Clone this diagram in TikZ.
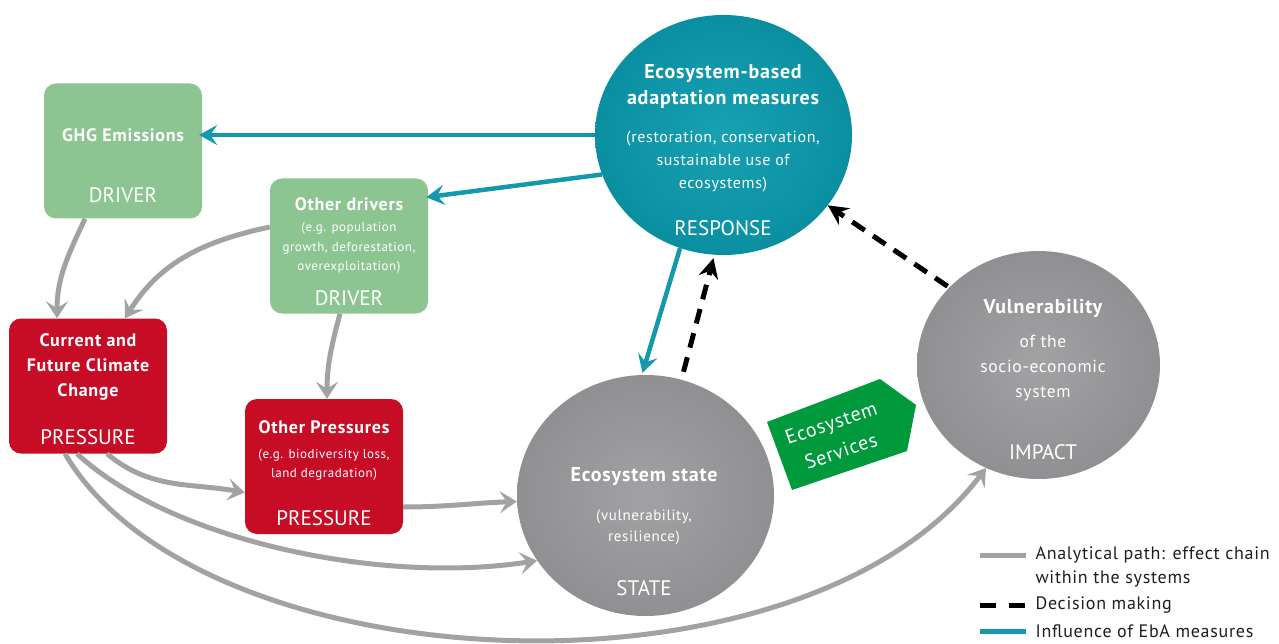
\documentclass[tikz,border=0pt]{standalone}
\usepackage{fontspec}
\setmainfont{PT Sans}[LetterSpace=4]
\newfontfamily\tagfam{PT Sans}
\usetikzlibrary{arrows.meta,shapes.geometric,calc}

\definecolor{drvgreen}{HTML}{8CC592}
\definecolor{prsred}{HTML}{C70C25}
\definecolor{ebateal}{HTML}{1399AB}
\definecolor{tealin}{HTML}{17A1B3}
\definecolor{tealout}{HTML}{0A8FA1}
\definecolor{grayin}{HTML}{A2A2A4}
\definecolor{grayout}{HTML}{909092}
\definecolor{pathgray}{HTML}{A2A2A2}
\definecolor{esgreen}{HTML}{009A3D}
\definecolor{legtext}{HTML}{1E1E1E}

\begin{document}
\begin{tikzpicture}[x=1pt,y=-1pt,
  box/.style={rectangle, rounded corners=12pt, minimum width=158pt, minimum height=135pt, inner sep=0pt},
  driverbox/.style={box, fill=drvgreen},
  pressbox/.style={box, fill=prsred},
  blob/.style={ellipse, inner sep=0pt},
  respblob/.style={blob, inner color=tealin, outer color=tealout},
  grayblob/.style={blob, inner color=grayin, outer color=grayout},
  ttl/.style={text=white, font=\bfseries\fontsize{18}{25}\selectfont, align=center},
  bigttl/.style={text=white, font=\bfseries\fontsize{20}{26}\selectfont, align=center},
  sub/.style={text=white, font=\fontsize{13}{19.5}\selectfont, align=center},
  bigsub/.style={text=white, font=\fontsize{16}{23}\selectfont, align=center},
  tag/.style={text=white, font=\tagfam\fontsize{21}{22}\selectfont},
  legend/.style={text=legtext, font=\fontsize{18}{24}\selectfont, anchor=west, align=left},
  analytic/.style={draw=pathgray, line width=5pt, -{Stealth[length=17pt,width=22pt,inset=7pt]}},
  eba/.style={draw=ebateal, line width=4.5pt, -{Stealth[length=18pt,width=20pt,inset=7pt]}},
  decision/.style={draw=black, line width=5pt, dash pattern=on 15pt off 10pt, -{Stealth[length=20pt,width=20pt,inset=7pt]}}
]
\useasboundingbox (0,0) rectangle (1279,644);

% ---------- DRIVER boxes ----------
\node[driverbox] (ghg) at (123,151) {};
\node[ttl] (ghgT) at (123,135) {GHG Emissions};
\node[tag] (ghgL) at (123,195) {DRIVER};

\node[driverbox] (odr) at (349,246) {};
\node[ttl] (odrT) at (349,204) {Other drivers};
\node[sub] (odrS) at (349,248) {(e.g. population\\growth, deforestation,\\overexploitation)};
\node[tag] (odrL) at (349,298) {DRIVER};

% ---------- PRESSURE boxes ----------
\node[pressbox] (cur) at (88,386) {};
\node[ttl] (curT) at (88,367) {Current and\\Future Climate\\Change};
\node[tag] (curL) at (88,437) {PRESSURE};

\node[pressbox] (opr) at (324,466.5) {};
\node[ttl] (oprT) at (324,427) {Other Pressures};
\node[sub] (oprS) at (324,465) {(e.g. biodiversity loss,\\land degradation)};
\node[tag] (oprL) at (324,518) {PRESSURE};

% ---------- RESPONSE, STATE, IMPACT ----------
\node[respblob, minimum width=257pt, minimum height=240pt] (resp) at (723.5,135) {};
\node[bigttl] (respT) at (723,87) {Ecosystem-based\\adaptation measures};
\node[bigsub] (respS) at (723,162) {(restoration, conservation,\\sustainable use of\\ecosystems)};
\node[tag] (respL) at (723,228) {RESPONSE};

\node[grayblob, minimum width=257pt, minimum height=241pt] (state) at (645.5,495.5) {};
\node[bigttl] (stateT) at (644,477) {Ecosystem state};
\node[sub, font=\fontsize{15}{21}\selectfont] (stateS) at (644,527.5) {(vulnerability,\\resilience)};
\node[tag] (stateL) at (644,588) {STATE};

\node[grayblob, minimum width=243pt, minimum height=228pt] (imp) at (1038.5,365) {};
\node[bigttl] (impT) at (1043,308) {Vulnerability};
\node[bigsub, font=\fontsize{17.5}{25}\selectfont] (impS) at (1043,368) {of the\\socio-economic\\system};
\node[tag] (impL) at (1043,452) {IMPACT};

% ---------- Ecosystem Services tag ----------
\fill[esgreen] (767,422) -- (880,379) -- (916,405) -- (907,451) -- (792,490) -- cycle;
\node[text=white, font=\fontsize{20}{30}\selectfont, align=center, rotate=19] (esT) at (836,437) {Ecosystem\\Services};

% ---------- Influence of EbA measures ----------
\draw[eba, shorten >=-3pt] (resp.west) -- (resp.west -| ghg.east);
\draw[eba, shorten >=-2pt] (resp.198) -- ([yshift=49pt]odr.east);
\draw[eba] (resp.-111) -- ([xshift=-3pt,yshift=2pt]state.north);

% ---------- Decision making ----------
\draw[decision] ([xshift=38pt,yshift=3pt]state.north) -- ([xshift=-10pt,yshift=-3pt]resp.south);
\draw[decision, shorten <=2pt] (imp.139.5) -- (resp.-34);

% ---------- Analytical path ----------
\draw[analytic] ([xshift=-38pt]ghg.south) to[out=-115,in=90] ([xshift=-31pt]cur.north);
\draw[analytic] ([yshift=19pt]odr.west) to[out=192,in=58] ([xshift=37pt]cur.north);
\draw[analytic] ([xshift=-9pt]odr.south) to[out=-105,in=90] ([xshift=3pt]opr.north);
\draw[analytic] ([xshift=19pt]cur.south) to[out=-40,in=170] ([yshift=-26pt]opr.west);
\draw[analytic] ([yshift=-40.5pt]opr.east) to[out=0,in=182] ([yshift=-6pt]state.west);
\draw[analytic] ([xshift=-11pt]cur.south) .. controls (170,540) and (380,585) .. (state.211.5);
\draw[analytic] ([xshift=-23pt]cur.south) .. controls (200,684) and (800,714) .. (imp.243);

% ---------- Legend ----------
\coordinate (lgA1) at (980,555);  \coordinate (lgA2) at (1026,555);
\coordinate (lgB1) at (980,605);  \coordinate (lgB2) at (1026,605);
\coordinate (lgC1) at (980,631);  \coordinate (lgC2) at (1026,631);
\draw[pathgray, line width=5pt] (lgA1) -- (lgA2);
\draw[black, line width=5pt, dash pattern=on 16pt off 13pt] (lgB1) -- (lgB2);
\draw[ebateal, line width=5pt] (lgC1) -- (lgC2);
\node[legend] (lgA) at (1032,567) {Analytical path: effect chain\\within the systems};
\node[legend] (lgB) at (1032,605) {Decision making};
\node[legend] (lgC) at (1032,631) {Influence of EbA measures};
\end{tikzpicture}
\end{document}
